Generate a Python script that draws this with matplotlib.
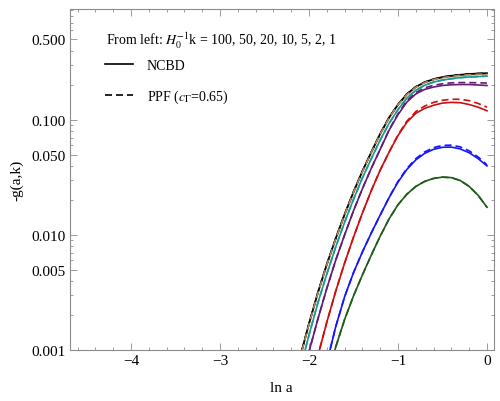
import numpy as np
import matplotlib
matplotlib.use("Agg")
import matplotlib.pyplot as plt
import matplotlib.ticker as ticker

plt.rcParams["font.family"] = ["Liberation Serif", "DejaVu Serif"]
plt.rcParams["mathtext.fontset"] = "stix"

########################################################################
# -g(a,k), ln a on x
# k = 100 (black)
lna_100 = [-2.2, -2.1, -2.0, -1.9, -1.8, -1.7, -1.6, -1.5, -1.4, -1.3, -1.2, -1.1,
           -1.0, -0.9, -0.8, -0.7, -0.6, -0.5, -0.4, -0.3, -0.2, -0.1, 0.0]
g_100 = [0.000427, 0.000871, 0.00170, 0.00316, 0.00556, 0.00933, 0.0151, 0.0237, 0.0359, 0.0525, 0.0759, 0.105,
         0.136, 0.168, 0.194, 0.213, 0.226, 0.236, 0.242, 0.247, 0.251, 0.253, 0.255]
# k = 50 (tan), sits on top of k=100
g_50 = [0.000418, 0.000855, 0.00167, 0.00311, 0.00548, 0.00920, 0.0149, 0.0234, 0.0355, 0.0519, 0.0751, 0.104,
        0.135, 0.166, 0.192, 0.211, 0.224, 0.233, 0.239, 0.244, 0.247, 0.249, 0.251]
# k = 20 (teal)
lna_20 = lna_100
g_20 = [0.000331, 0.000676, 0.00135, 0.00257, 0.00457, 0.00785, 0.0129, 0.0204, 0.0313, 0.0460, 0.0668, 0.0933,
        0.123, 0.155, 0.181, 0.200, 0.213, 0.222, 0.228, 0.233, 0.236, 0.238, 0.240]
# k = 10 (purple)
lna_10 = [-2.1, -2.0, -1.9, -1.8, -1.7, -1.6, -1.5, -1.4, -1.3, -1.2, -1.1,
          -1.0, -0.9, -0.8, -0.7, -0.6, -0.5, -0.4, -0.3, -0.2, -0.1, 0.0]
g_10 = [0.000479, 0.000966, 0.00186, 0.00343, 0.00603, 0.0100, 0.0162, 0.0252, 0.0380, 0.0555, 0.0813,
        0.111, 0.143, 0.168, 0.184, 0.193, 0.199, 0.202, 0.203, 0.203, 0.201, 0.199]
g_10_ppf = [0.000479, 0.000966, 0.00186, 0.00343, 0.00603, 0.0100, 0.0162, 0.0252, 0.0380, 0.0555, 0.0820,
            0.113, 0.147, 0.173, 0.190, 0.200, 0.206, 0.210, 0.211, 0.211, 0.210, 0.209]
# k = 5 (red)
lna_5 = [-2.0, -1.9, -1.8, -1.7, -1.6, -1.5, -1.4, -1.3, -1.2, -1.1,
         -1.0, -0.9, -0.8, -0.7, -0.6, -0.5, -0.4, -0.3, -0.2, -0.1, 0.0]
g_5 = [0.000437, 0.000891, 0.00174, 0.00324, 0.00569, 0.00955, 0.0155, 0.0243, 0.0366, 0.0525,
       0.0731, 0.0955, 0.114, 0.126, 0.134, 0.140, 0.142, 0.141, 0.136, 0.129, 0.120]
g_5_ppf = [0.000437, 0.000891, 0.00174, 0.00324, 0.00569, 0.00955, 0.0155, 0.0243, 0.0366, 0.0525,
           0.0740, 0.0975, 0.118, 0.132, 0.142, 0.148, 0.151, 0.151, 0.147, 0.139, 0.129]
# k = 2 (blue)
lna_2 = [-1.9, -1.8, -1.7, -1.6, -1.5, -1.4, -1.3, -1.2, -1.1,
         -1.0, -0.9, -0.8, -0.7, -0.6, -0.5, -0.4, -0.3, -0.2, -0.1, 0.0]
g_2 = [0.000339, 0.000771, 0.00159, 0.00290, 0.00470, 0.00711, 0.0104, 0.0149, 0.0211,
       0.0288, 0.0371, 0.0449, 0.0512, 0.0555, 0.0578, 0.0580, 0.0559, 0.0518, 0.0461, 0.0398]
g_2_ppf = [0.000339, 0.000771, 0.00159, 0.00290, 0.00470, 0.00711, 0.0104, 0.0149, 0.0212,
           0.0292, 0.0378, 0.0460, 0.0527, 0.0574, 0.0600, 0.0603, 0.0582, 0.0538, 0.0476, 0.0406]
# k = 1 (green)
lna_1 = [-1.8, -1.7, -1.6, -1.5, -1.4, -1.3, -1.2, -1.1,
         -1.0, -0.9, -0.8, -0.7, -0.6, -0.5, -0.4, -0.3, -0.2, -0.1, 0.0]
g_1 = [0.000562, 0.00106, 0.00184, 0.00295, 0.00449, 0.00668, 0.00976, 0.0138,
       0.0183, 0.0226, 0.0264, 0.0292, 0.0310, 0.0318, 0.0315, 0.0297, 0.0264, 0.0221, 0.0174]

curves = [
    (lna_1, g_1, g_1, '#1f5c1a'),
    (lna_2, g_2, g_2_ppf, '#1414ff'),
    (lna_5, g_5, g_5_ppf, '#cc0e0e'),
    (lna_10, g_10, g_10_ppf, '#661a73'),
    (lna_20, g_20, g_20, '#179a94'),
    (lna_100, g_50, g_50, '#b0875a'),
    (lna_100, g_100, g_100, '#000000'),
]

yticks = [0.001, 0.005, 0.01, 0.05, 0.1, 0.5]
yticklabels = ['0.001', '0.005', '0.010', '0.050', '0.100', '0.500']

fig = plt.figure(figsize=(5.0, 4.02), dpi=100)
ax = fig.add_axes([70/500, 1-351/402, 423.5/500, 341/402])

# NCBD solid first (k=1 ... 100), then PPF dashed (k=100 ... 1)
for x, g, gp, c in curves:
    ax.plot(x, g, color=c, lw=1.2)
for x, g, gp, c in curves[::-1]:
    ax.plot(x, gp, color=c, lw=1.2, dashes=(4.2, 2.4))

ax.set_yscale('log')
ax.set_xlim(-4.685, 0.073)
ax.set_ylim(0.001, 0.92)

ax.set_yticks(yticks)
ax.set_yticklabels(yticklabels)
ax.yaxis.set_minor_locator(ticker.LogLocator(base=10, subs=(2, 3, 4, 6, 7, 8, 9)))
ax.yaxis.set_minor_formatter(ticker.NullFormatter())
ax.xaxis.set_major_locator(ticker.MultipleLocator(1))
ax.xaxis.set_minor_locator(ticker.MultipleLocator(0.2))

for s in ax.spines.values():
    s.set_color('#8c8c8c')
    s.set_linewidth(0.8)
ax.tick_params(which='both', direction='in', top=True, right=True, color='#8c8c8c',
               labelsize=11, labelcolor='black', width=0.6, pad=3)
ax.tick_params(which='major', length=5)
ax.tick_params(which='minor', length=2.5)

ax.set_xlabel('ln a', fontsize=11, labelpad=10)
ax.set_ylabel('-g(a,k)', fontsize=11, labelpad=6)

ax.text(0.085, 0.91, 'From left: $H_0^{-1}$k = 100, 50, 20, 10, 5, 2, 1',
        transform=ax.transAxes, fontsize=10, va='center', ha='left')
h1, = ax.plot([], [], color='black', lw=1.2)
h2, = ax.plot([], [], color='black', lw=1.2, dashes=(4.2, 2.4))
ax.legend([h1, h2], ['NCBD', 'PPF ($c_\\Gamma$=0.65)'], loc='upper left',
          bbox_to_anchor=(0.06, 0.881), frameon=False, fontsize=10,
          handlelength=2.0, handletextpad=1.0, labelspacing=1.13, borderpad=0.2)

fig.savefig('out.png', dpi=100)
